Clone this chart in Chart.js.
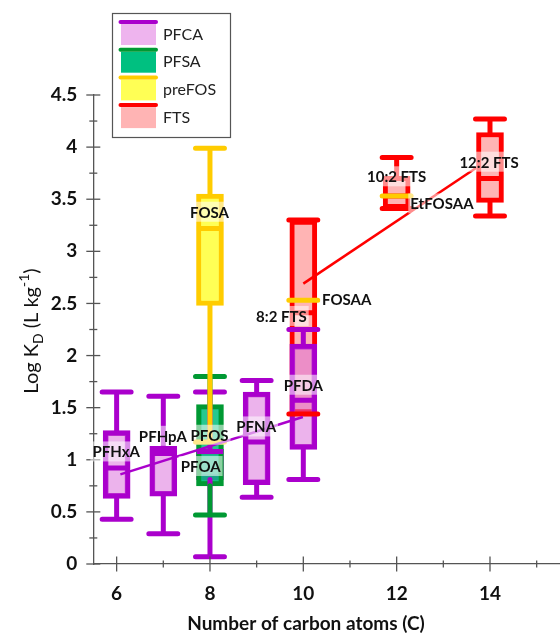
<!DOCTYPE html>
<html><head><meta charset="utf-8">
<script src="https://cdn.jsdelivr.net/npm/chart.js@4.4.1/dist/chart.umd.min.js"></script>
<style>html,body{margin:0;padding:0;background:#fff}#wrap{width:560px;height:634px}</style>
</head><body><div id="wrap"><canvas id="c" width="560" height="634"></canvas></div>
<script>
// ---------------- data ----------------
const pfcaNames = ['PFHxA','PFHpA','PFOA','PFNA','PFDA'];
const pfcaX     = [6, 7, 8, 9, 10];
const pfcaMin   = [0.43, 0.29, 0.07, 0.64, 0.81];
const pfcaQ1    = [0.63, 0.65, 0.81, 0.76, 1.10];
const pfcaMed   = [0.92, 1.06, 1.08, 1.17, 1.57];
const pfcaQ3    = [1.28, 1.13, 1.10, 1.65, 2.11];
const pfcaMax   = [1.65, 1.61, 1.65, 1.76, 2.25];

const pfsaNames = ['PFOS'];
const pfsaX     = [8];
const pfsaMin   = [0.47];
const pfsaQ1    = [0.75];
const pfsaMed   = [1.17];
const pfsaQ3    = [1.53];
const pfsaMax   = [1.80];

const prefosNames = ['FOSA'];
const prefosX     = [8];
const prefosMin   = [1.17];
const prefosQ1    = [2.48];
const prefosMed   = [3.22];
const prefosQ3    = [3.55];
const prefosMax   = [3.99];
const prefosSingleNames = ['FOSAA','EtFOSAA'];
const prefosSingleX     = [10, 12];
const prefosSingleY     = [2.53, 3.53];

const ftsNames = ['8:2 FTS','10:2 FTS','12:2 FTS'];
const ftsX     = [10, 12, 14];
const ftsMin   = [1.44, 3.41, 3.34];
const ftsQ1    = [1.44, 3.41, 3.47];
const ftsMed   = [2.41, 3.53, 3.70];
const ftsQ3    = [3.30, 3.72, 4.14];
const ftsMax   = [3.30, 3.90, 4.27];

// trend lines (start / end points)
const pfcaTrendX = [6.08, 9.99];
const pfcaTrendY = [0.86, 1.41];
const ftsTrendX  = [10.0, 13.7];
const ftsTrendY  = [2.69, 3.80];

// annotation labels (anchor in data coordinates)
const labelTexts = ['PFHxA','PFHpA','PFOS','PFOA','PFNA','PFDA','FOSA','FOSAA','8:2 FTS','10:2 FTS','EtFOSAA','12:2 FTS'];
const labelX     = [5.99, 6.99, 7.99, 7.80, 8.99, 10.0, 7.99, 10.93, 9.53, 12.0, 12.97, 13.98];
const labelY     = [1.08, 1.23, 1.24, 0.94, 1.32, 1.72, 3.38, 2.54, 2.38, 3.72, 3.46, 3.86];

// axes
const xTickValues = [6, 8, 10, 12, 14];
const xTickLabels = ['6','8','10','12','14'];
const xMinorTicks = [7, 9, 11, 13, 15];
const yTickValues = [0, 0.5, 1, 1.5, 2, 2.5, 3, 3.5, 4, 4.5];
const yTickLabels = ['0','0.5','1','1.5','2','2.5','3','3.5','4','4.5'];
const yMinorTicks = [0.25, 0.75, 1.25, 1.75, 2.25, 2.75, 3.25, 3.75, 4.25];

const legendNames = ['PFCA','PFSA','preFOS','FTS'];

// ---------------- styles ----------------
const AXIS = '#555555';
const COL = {
  pfca:   {stroke:'#AA00CC', fill:'rgba(218,104,218,0.5)', legendFill:'#EEB4EE'},
  pfsa:   {stroke:'#009933', fill:'rgba(0,190,125,0.85)',  legendFill:'#00C080'},
  prefos: {stroke:'#FFCC00', fill:'#FFFF55',               legendFill:'#FFFF55'},
  fts:    {stroke:'#FF0000', fill:'#FFB4B4',               legendFill:'#FFB4B4'}
};
const CAP_HALF = 0.31;   // half width of whisker caps (x units)
const MED_HALF = 0.28;   // half width of median lines (x units)

// ---------------- builders ----------------
function boxData(xs, q1, q3){ return xs.map((x,i)=>({x:x, y:[q1[i], q3[i]]})); }
function whiskerData(xs, mn, q1, q3, mx){
  const d = [];
  xs.forEach((x,i)=>{
    d.push({x:x-CAP_HALF,y:mx[i]},{x:x+CAP_HALF,y:mx[i]},{x:x,y:null});
    if (mx[i] > q3[i]) d.push({x:x,y:mx[i]},{x:x,y:q3[i]},{x:x,y:null});
    if (mn[i] < q1[i]) d.push({x:x,y:q1[i]},{x:x,y:mn[i]},{x:x,y:null});
    d.push({x:x-CAP_HALF,y:mn[i]},{x:x+CAP_HALF,y:mn[i]},{x:x,y:null});
  });
  return d;
}
function medianData(xs, md, half){
  const d = [];
  xs.forEach((x,i)=>{ d.push({x:x-half,y:md[i]},{x:x+half,y:md[i]},{x:x,y:null}); });
  return d;
}
function barDs(data, c, order){
  return {type:'bar', data, backgroundColor:c.fill, borderColor:c.stroke, borderWidth:5,
          borderSkipped:false, barThickness:27, grouped:false, order};
}
function lineDs(data, color, order, cap){
  return {type:'line', data, borderColor:color, borderWidth:5, pointRadius:0, pointHoverRadius:0,
          fill:false, tension:0, spanGaps:false, borderCapStyle:cap||'round', order};
}

const datasets = [
  barDs(boxData(ftsX, ftsQ1, ftsQ3), COL.fts, 100),
  barDs(boxData(pfcaX, pfcaQ1, pfcaQ3), COL.pfca, 90),
  barDs(boxData(pfsaX, pfsaQ1, pfsaQ3), COL.pfsa, 80),
  lineDs(whiskerData(pfcaX, pfcaMin, pfcaQ1, pfcaQ3, pfcaMax), COL.pfca.stroke, 70),
  lineDs(medianData(pfcaX, pfcaMed, MED_HALF), COL.pfca.stroke, 69, 'butt'),
  lineDs(whiskerData(pfsaX, pfsaMin, pfsaQ1, pfsaQ3, pfsaMax), COL.pfsa.stroke, 60),
  lineDs(medianData(pfsaX, pfsaMed, MED_HALF), COL.pfsa.stroke, 59, 'butt'),
  lineDs(whiskerData(ftsX, ftsMin, ftsQ1, ftsQ3, ftsMax), COL.fts.stroke, 50),
  lineDs(medianData(ftsX, ftsMed, MED_HALF), COL.fts.stroke, 49, 'butt'),
  barDs(boxData(prefosX, prefosQ1, prefosQ3), COL.prefos, 40),
  lineDs(whiskerData(prefosX, prefosMin, prefosQ1, prefosQ3, prefosMax), COL.prefos.stroke, 39),
  lineDs(medianData(prefosX, prefosMed, MED_HALF), COL.prefos.stroke, 38, 'butt'),
  lineDs(medianData(prefosSingleX, prefosSingleY, CAP_HALF), COL.prefos.stroke, 37),
  Object.assign(lineDs(pfcaTrendX.map((x,i)=>({x, y:pfcaTrendY[i]})), COL.pfca.stroke, 30, 'butt'), {borderWidth:2.5}),
  Object.assign(lineDs(ftsTrendX.map((x,i)=>({x, y:ftsTrendY[i]})), COL.fts.stroke, 29, 'butt'), {borderWidth:2.5})
];

// ---------------- decoration plugin ----------------
const deco = {
  id:'deco',
  afterDatasetsDraw(chart){
    const {ctx, scales:{x, y}} = chart;
    ctx.save();
    // tick marks crossing the axes
    ctx.strokeStyle = AXIS; ctx.lineWidth = 1.3;
    const ax = x.left, ay = y.bottom;
    function seg(x1,y1,x2,y2){ ctx.beginPath(); ctx.moveTo(x1,y1); ctx.lineTo(x2,y2); ctx.stroke(); }
    yTickValues.forEach(v=>{ const p=y.getPixelForValue(v); seg(ax-7,p,ax+7,p); });
    yMinorTicks.forEach(v=>{ const p=y.getPixelForValue(v); seg(ax-4,p,ax+4,p); });
    xTickValues.forEach(v=>{ const p=x.getPixelForValue(v); seg(p,ay-7.5,p,ay+7.5); });
    xMinorTicks.forEach(v=>{ const p=x.getPixelForValue(v); seg(p,ay-3.5,p,ay+3.5); });

    // annotation labels with translucent white background
    ctx.font = 'bold 15px Lato';
    ctx.textAlign = 'center'; ctx.textBaseline = 'middle';
    labelTexts.forEach((t,i)=>{
      const px = x.getPixelForValue(labelX[i]), py = y.getPixelForValue(labelY[i]);
      const w = ctx.measureText(t).width + 4;
      ctx.fillStyle = 'rgba(255,255,255,0.55)';
      ctx.fillRect(px - w/2, py - 10, w, 20);
      ctx.fillStyle = '#111';
      ctx.fillText(t, px, py + 1);
    });

    // legend
    const lx = 112.5, ly = 13.5, step = 27.7;
    ctx.fillStyle = '#fff';
    ctx.fillRect(lx, ly, 118, 124);
    ctx.strokeStyle = AXIS; ctx.lineWidth = 1.2;
    ctx.strokeRect(lx, ly, 118, 124);
    const legCols = [COL.pfca, COL.pfsa, COL.prefos, COL.fts];
    legendNames.forEach((n,i)=>{
      const yl = 22 + i*step;
      ctx.fillStyle = legCols[i].legendFill;
      ctx.fillRect(121, yl + 2, 35, 21);
      ctx.strokeStyle = legCols[i].stroke; ctx.lineWidth = 4; ctx.lineCap = 'round';
      seg(120.5, yl, 156, yl);
      ctx.fillStyle = '#222'; ctx.font = '16px Lato';
      ctx.textAlign = 'left'; ctx.textBaseline = 'middle';
      ctx.fillText(n, 163, yl + 12.5);
    });

    // x axis title
    ctx.fillStyle = '#111'; ctx.font = 'bold 19px Lato';
    ctx.textAlign = 'center'; ctx.textBaseline = 'middle';
    ctx.fillText('Number of carbon atoms (C)', 306, 624);

    // y axis title with subscript / superscript
    const parts = [
      {t:'Log K', f:'20px Lato', dy:0},
      {t:'D', f:'14px Lato', dy:5},
      {t:' (L kg', f:'20px Lato', dy:0},
      {t:'-1', f:'14px Lato', dy:-9},
      {t:')', f:'20px Lato', dy:0}
    ];
    let total = 0;
    parts.forEach(p=>{ ctx.font = p.f; p.w = ctx.measureText(p.t).width; total += p.w; });
    ctx.translate(38, 331); ctx.rotate(-Math.PI/2);
    ctx.textAlign = 'left'; ctx.textBaseline = 'alphabetic'; ctx.fillStyle = '#111';
    let cx = -total/2;
    parts.forEach(p=>{ ctx.font = p.f; ctx.fillText(p.t, cx, p.dy); cx += p.w; });
    ctx.restore();
  }
};

new Chart(document.getElementById('c'), {
  type:'bar',
  data:{datasets},
  options:{
    responsive:false, animation:false, devicePixelRatio:1,
    layout:{padding:{top:95, left:0, right:0, bottom:0}},
    plugins:{legend:{display:false}, tooltip:{enabled:false}},
    scales:{
      x:{type:'linear', min:5.5, max:15.5, offset:false,
         grid:{display:false, drawTicks:false},
         border:{display:true, color:AXIS, width:1.3},
         ticks:{font:{family:'Lato', size:19, weight:'bold'}, color:'#111', padding:18, autoSkip:false, maxRotation:0,
                callback:(v,i)=>xTickLabels[i]},
         afterBuildTicks:(s)=>{ s.ticks = xTickValues.map(v=>({value:v})); },
         afterFit:(s)=>{ s.height = 70; }},
      y:{type:'linear', min:0, max:4.5,
         grid:{display:false, drawTicks:false},
         border:{display:true, color:AXIS, width:1.3},
         ticks:{font:{family:'Lato', size:19, weight:'bold'}, color:'#111', padding:16,
                callback:(v,i)=>yTickLabels[i]},
         afterBuildTicks:(s)=>{ s.ticks = yTickValues.map(v=>({value:v})); },
         afterFit:(s)=>{ s.width = 93.3; }}
    }
  },
  plugins:[deco]
});
</script>
</body></html>
